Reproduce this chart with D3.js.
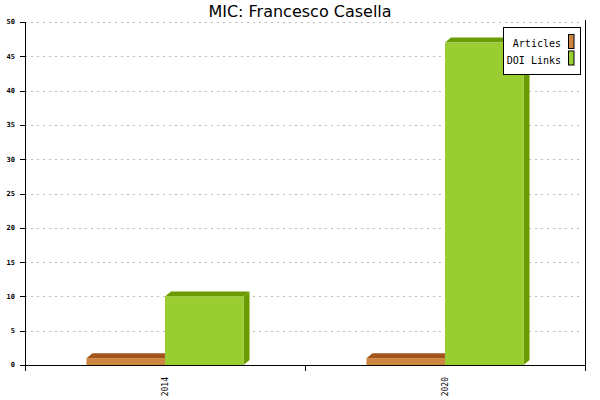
<!DOCTYPE html>
<html><head><meta charset="utf-8">
<script src="https://cdn.jsdelivr.net/npm/d3@7"></script>
<style>body{margin:0;background:#fff}svg{display:block}</style>
</head><body>
<script>
const title = "MIC: Francesco Casella";
const years = ["2014", "2020"];
const seriesNames = ["Articles", "DOI Links"];
const articles = [1, 1];
const doiLinks = [10, 47];
const yTicks = [0, 5, 10, 15, 20, 25, 30, 35, 40, 45, 50];
const frontColors = ["#CD853F", "#9ACD32"];
const darkColors = ["#A0561A", "#6A9C00"];

const W = 600, H = 400;
const mLeft = 25, mRight = 585, mTop = 22, mBottom = 365;
const dx = 6, dy = 5;

const svg = d3.select("body").append("svg").attr("width", W).attr("height", H);

const x = d3.scaleBand().domain(years).range([mLeft, mRight]).padding(0);
const xi = d3.scaleBand().domain(seriesNames).range([0, x.bandwidth()]).paddingInner(0).paddingOuter(0.783);
const y = d3.scaleLinear().domain([0, 50]).range([mBottom, mTop]);

// title
svg.append("text").attr("x", 300).attr("y", 17).attr("text-anchor", "middle")
  .attr("font-family", "DejaVu Sans").attr("font-size", 16).attr("fill", "#000").text(title);

// gridlines
svg.append("g").selectAll("line").data(yTicks.filter(d => d > 0)).join("line")
  .attr("x1", mLeft).attr("x2", mRight - 2)
  .attr("y1", d => Math.round(y(d)) + 0.5).attr("y2", d => Math.round(y(d)) + 0.5)
  .attr("stroke", "#bbb").attr("stroke-dasharray", "2,4");

// data rows
const rows = years.map((yr, i) => ({ year: yr, values: [articles[i], doiLinks[i]] }));

const g = svg.append("g");
rows.forEach(r => {
  r.values.forEach((v, s) => {
    const x0 = x(r.year) + xi(seriesNames[s]);
    const x1 = x0 + xi.bandwidth();
    const yt = y(v), yb = y(0);
    g.append("polygon")
      .attr("points", [[x1, yt], [x1 + dx, yt - dy], [x1 + dx, yb - dy], [x1, yb]].join(" "))
      .attr("fill", darkColors[s]);
    g.append("polygon")
      .attr("points", [[x0, yt], [x0 + dx, yt - dy], [x1 + dx, yt - dy], [x1, yt]].join(" "))
      .attr("fill", darkColors[s]);
    g.append("rect").attr("x", x0).attr("y", yt).attr("width", x1 - x0).attr("height", yb - yt)
      .attr("fill", frontColors[s]);
  });
});

// y axis
const ya = svg.append("g").attr("font-family", "DejaVu Sans Mono").attr("font-size", 7).attr("font-weight", "bold");
ya.append("line").attr("x1", mLeft + 0.5).attr("x2", mLeft + 0.5).attr("y1", mTop).attr("y2", mBottom + 6).attr("stroke", "#000");
ya.selectAll("line.t").data(yTicks).join("line").attr("class", "t")
  .attr("x1", mLeft - 5).attr("x2", mLeft).attr("y1", d => Math.round(y(d)) + 0.5).attr("y2", d => Math.round(y(d)) + 0.5)
  .attr("stroke", "#000");
ya.selectAll("text").data(yTicks).join("text")
  .attr("x", 15).attr("y", d => y(d)).attr("dy", "0.35em").attr("text-anchor", "end").text(d => d);

// x axis
const xa = svg.append("g");
xa.append("line").attr("x1", mLeft).attr("x2", mRight).attr("y1", mBottom + 0.5).attr("y2", mBottom + 0.5).attr("stroke", "#000");
xa.selectAll("line.t").data(years.slice(1)).join("line").attr("class", "t")
  .attr("x1", d => x(d) + 0.5).attr("x2", d => x(d) + 0.5).attr("y1", mBottom).attr("y2", mBottom + 6).attr("stroke", "#000");
xa.append("line").attr("x1", mRight + 0.5).attr("x2", mRight + 0.5).attr("y1", 20).attr("y2", mBottom + 6).attr("stroke", "#000");
xa.selectAll("text").data(years).join("text")
  .attr("transform", d => `translate(${x(d) + x.bandwidth() / 2 + 3},377) rotate(-90)`)
  .attr("text-anchor", "end").attr("font-family", "DejaVu Sans Mono").attr("font-size", 8).text(d => d);

// legend
const lg = svg.append("g");
lg.append("rect").attr("x", 503.5).attr("y", 27.5).attr("width", 77).attr("height", 47)
  .attr("fill", "#fff").attr("stroke", "#000");
seriesNames.forEach((n, i) => {
  lg.append("text").attr("x", 561).attr("y", 47 + i * 16.5).attr("text-anchor", "end")
    .attr("font-family", "DejaVu Sans Mono").attr("font-size", 10).text(n);
  lg.append("rect").attr("x", 568.5).attr("y", 34.5 + i * 16.5).attr("width", 5.5).attr("height", 14)
    .attr("fill", frontColors[i]).attr("stroke", "#000");
});
</script>
</body></html>
